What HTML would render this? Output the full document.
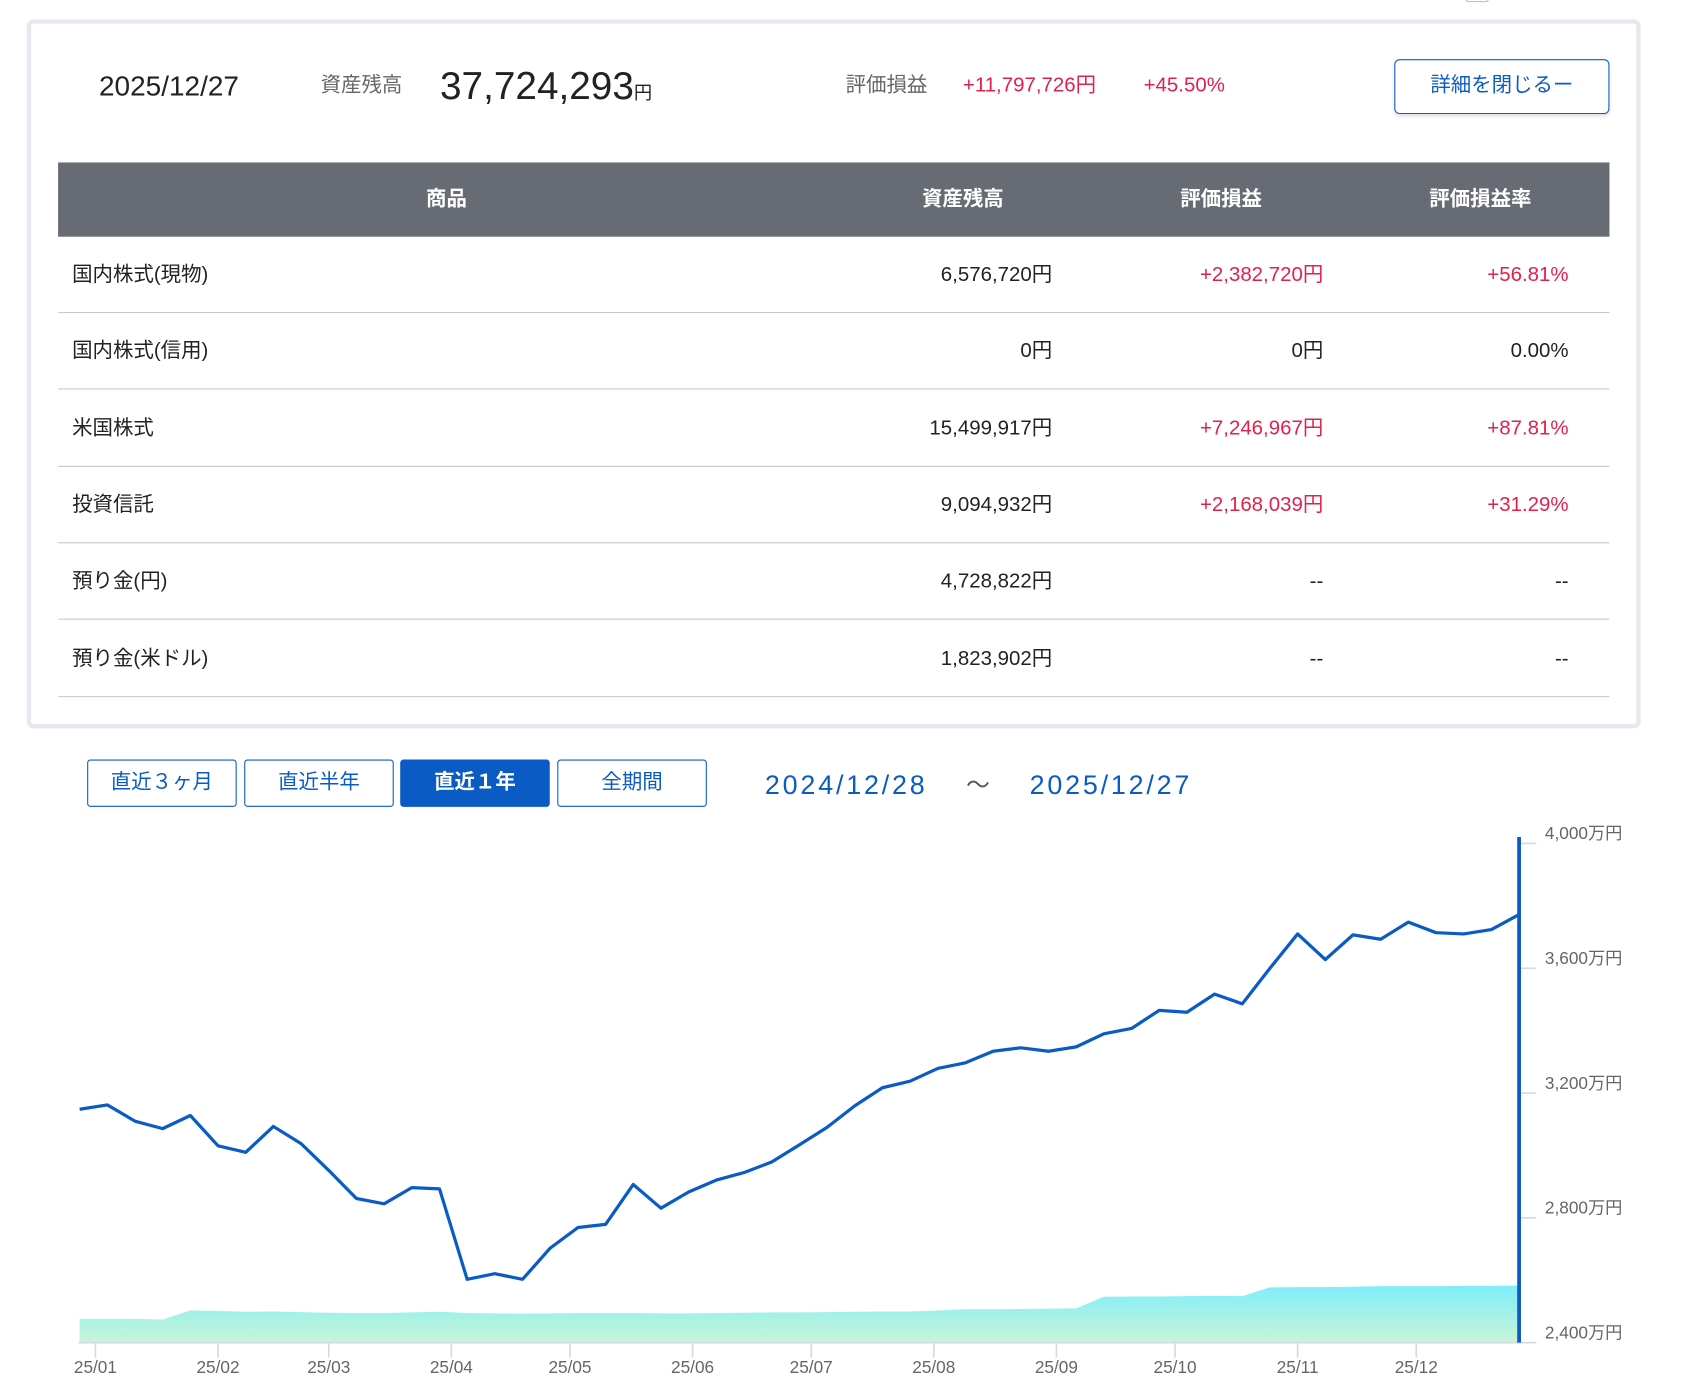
<!DOCTYPE html>
<html><head><meta charset="utf-8">
<style>
*{margin:0;padding:0;box-sizing:border-box}
html,body{width:1688px;height:1394px;overflow:hidden;background:#fff}
body{font-family:"Liberation Sans","Noto Sans CJK JP",sans-serif;color:#222}
#root{position:absolute;left:0;top:0;width:1569px;height:1296px;transform:scale(1.07584);transform-origin:0 0}
.a{position:absolute;white-space:nowrap}
.hd{position:absolute;top:55px;height:50px;line-height:50px;white-space:nowrap}
.card{position:absolute;left:25px;top:18px;width:1500px;height:659px;border:4px solid #e5e8ee;border-radius:6px;background:#fff}
.th{position:absolute;top:151px;left:54px;width:1442px;height:69px;background:#676b73}
.th span{position:absolute;top:0;line-height:69px;color:#fff;font-weight:bold;font-size:19px;transform:translateX(-50%)}
.row{position:absolute;left:54px;width:1442px;height:71px;border-bottom:1px solid #c6c8cc}
.row span{position:absolute;top:0;height:71px;line-height:71px;font-size:19px;white-space:nowrap}
.r{transform:translateX(-100%)}
.red{color:#e2204b}
.btn{position:absolute;top:706px;height:44px;width:139px;border:1.5px solid #0a5bc4;border-radius:3px;color:#0a5bc4;font-size:19px;text-align:center;line-height:41px;background:#fff}
.btn.on{background:#0a5bc4;color:#fff;font-weight:bold}
</style></head>
<body><div id="root">
<div class="a" style="left:1362px;top:-6px;width:22px;height:8px;border:1px solid #bbb;border-radius:3px"></div>
<div class="card"></div>
<div class="hd" style="left:92px;font-size:26px;color:#222">2025/12/27</div>
<div class="hd" style="left:298px;font-size:19px;color:#666">資産残高</div>
<div class="hd" style="left:409px;font-size:36px;color:#222">37,724,293<span style="font-size:17px">円</span></div>
<div class="hd" style="left:786px;font-size:19px;color:#666">評価損益</div>
<div class="hd red" style="left:895px;font-size:19px">+11,797,726円</div>
<div class="hd red" style="left:1063px;font-size:19px">+45.50%</div>
<div class="a" style="left:1296px;top:55px;width:200px;height:51px;border:1.5px solid #0a5bc4;border-radius:5px;color:#0a5bc4;font-size:19px;text-align:center;line-height:48px;box-shadow:0 2px 3px rgba(0,0,0,.12)">詳細を閉じるー</div>

<div class="th">
<span style="left:361px">商品</span>
<span style="left:841px">資産残高</span>
<span style="left:1081px">評価損益</span>
<span style="left:1322px">評価損益率</span>
</div>
<div class="row" style="top:220px"><span style="left:13px">国内株式(現物)</span><span class="r" style="left:924px">6,576,720円</span><span class="r red" style="left:1176px">+2,382,720円</span><span class="r red" style="left:1404px">+56.81%</span></div>
<div class="row" style="top:291px"><span style="left:13px">国内株式(信用)</span><span class="r" style="left:924px">0円</span><span class="r" style="left:1176px">0円</span><span class="r" style="left:1404px">0.00%</span></div>
<div class="row" style="top:363px"><span style="left:13px">米国株式</span><span class="r" style="left:924px">15,499,917円</span><span class="r red" style="left:1176px">+7,246,967円</span><span class="r red" style="left:1404px">+87.81%</span></div>
<div class="row" style="top:434px"><span style="left:13px">投資信託</span><span class="r" style="left:924px">9,094,932円</span><span class="r red" style="left:1176px">+2,168,039円</span><span class="r red" style="left:1404px">+31.29%</span></div>
<div class="row" style="top:505px"><span style="left:13px">預り金(円)</span><span class="r" style="left:924px">4,728,822円</span><span class="r" style="left:1176px">--</span><span class="r" style="left:1404px">--</span></div>
<div class="row" style="top:577px"><span style="left:13px">預り金(米ドル)</span><span class="r" style="left:924px">1,823,902円</span><span class="r" style="left:1176px">--</span><span class="r" style="left:1404px">--</span></div>

<div class="btn" style="left:81px">直近３ヶ月</div>
<div class="btn" style="left:227px">直近半年</div>
<div class="btn on" style="left:372px">直近１年</div>
<div class="btn" style="left:518px">全期間</div>
<div class="a" style="left:711px;top:710px;line-height:40px;font-size:25px;color:#0a5bc4;letter-spacing:2.6px">2024/12/28</div>
<div class="a" style="left:898px;top:710px;line-height:40px;font-size:22px;color:#555">〜</div>
<div class="a" style="left:957px;top:710px;line-height:40px;font-size:25px;color:#0a5bc4;letter-spacing:2.6px">2025/12/27</div>

<svg id="chart" class="a" style="left:0;top:0" width="1569" height="1296">
<defs><linearGradient id="ag" x1="0" y1="0" x2="0" y2="1"><stop offset="0" stop-color="#80eefb"/><stop offset="1" stop-color="#c8f4d4"/></linearGradient></defs>
</svg>
</div>
<script>
const totalValues=[3148,3162,3110,3086,3128,3031,3010,3093,3038,2952,2862,2845,2897,2893,2603,2621,2603,2703,2769,2779,2907,2831,2883,2921,2945,2979,3034,3090,3159,3217,3238,3279,3297,3334,3345,3334,3348,3390,3407,3465,3459,3517,3486,3600,3710,3628,3707,3693,3748,3714,3710,3724,3772];
const cashValues=[2476,2476,2476,2474,2503,2502,2499,2500,2498,2496,2495,2495,2497,2499,2495,2494,2493,2494,2495,2495,2495,2494,2494,2495,2496,2497,2497,2498,2499,2500,2500,2503,2507,2507,2508,2509,2510,2547,2548,2548,2549,2550,2549,2577,2578,2578,2579,2581,2581,2581,2582,2582,2583];
const yTicks=[2400,2800,3200,3600,4000];
const yTickLabels=["2,400万円","2,800万円","3,200万円","3,600万円","4,000万円"];
const monthTicks=["2025-01-01","2025-02-01","2025-03-01","2025-04-01","2025-05-01","2025-06-01","2025-07-01","2025-08-01","2025-09-01","2025-10-01","2025-11-01","2025-12-01"];
const monthLabels=["25/01","25/02","25/03","25/04","25/05","25/06","25/07","25/08","25/09","25/10","25/11","25/12"];
const startDate="2024-12-28";

const X0=74,X1=1412,Y0=1248,Y1=784,VMIN=2400,VMAX=4000,SPAN=364;
const t0=Date.parse(startDate);
function xDay(d){return X0+d/SPAN*(X1-X0);}
function xIdx(i){return xDay(i*7);}
function y(v){return Y0-(v-VMIN)/(VMAX-VMIN)*(Y0-Y1);}
const svg=document.getElementById('chart');const NS='http://www.w3.org/2000/svg';
function mk(t,a){const e=document.createElementNS(NS,t);for(const k in a)e.setAttribute(k,a[k]);svg.appendChild(e);return e;}

let d='M'+xIdx(0)+','+Y0;cashValues.forEach((v,i)=>d+=' L'+xIdx(i)+','+y(v));d+=' L'+xIdx(cashValues.length-1)+','+Y0+'Z';
const area=mk('path',{d:d,fill:'url(#ag)'});



const base=mk('line',{x1:73,y1:Y0,x2:1428,y2:Y0,stroke:'#d5d9e6','stroke-width':1.5});



monthTicks.forEach((m,i)=>{
 const dd=(Date.parse(m)-t0)/86400000;const x=xDay(dd);
 const tk=mk('line',{x1:x,y1:Y0,x2:x,y2:Y0+14,stroke:'#d5d9e6','stroke-width':1.5});
 
 
 const tx=mk('text',{x:x,y:Y0+28,'text-anchor':'middle','font-size':16,fill:'#666','font-family':'Liberation Sans, sans-serif'});
 tx.textContent=monthLabels[i];
 
 
});
yTicks.forEach((v,i)=>{
 const tk=mk('line',{x1:1413,y1:y(v),x2:1428,y2:y(v),stroke:'#d5d9e6','stroke-width':1.5});
 
 
 const tx=mk('text',{x:1436,y:y(v)-4,'font-size':16,fill:'#666','font-family':'Liberation Sans, Noto Sans CJK JP, sans-serif'});
 tx.textContent=yTickLabels[i];
 
 
});
const pts=totalValues.map((v,i)=>xIdx(i)+','+y(v)).join(' ');
const line=mk('polyline',{points:pts,fill:'none',stroke:'#0a5bc4','stroke-width':3,'stroke-linejoin':'round'});


const cur=mk('line',{x1:X1,y1:778,x2:X1,y2:Y0,stroke:'#0a5bc4','stroke-width':3.5});


</script>
</body></html>
